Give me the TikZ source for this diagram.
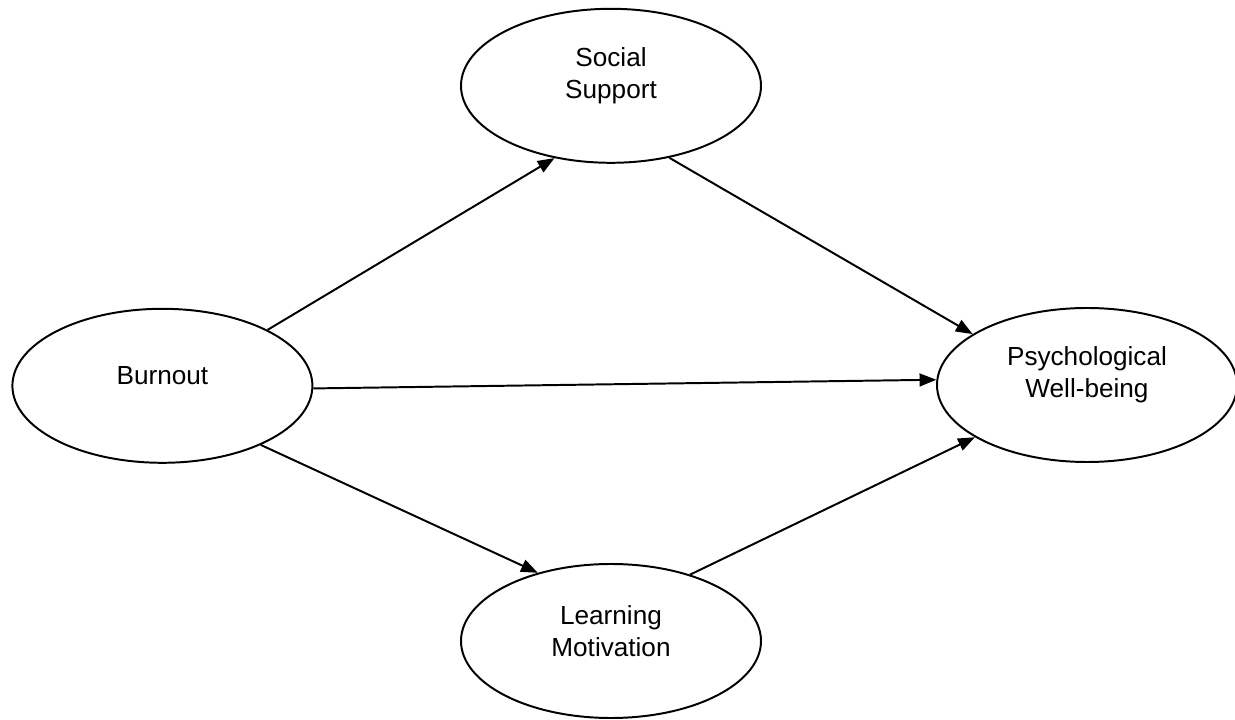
\documentclass[tikz,border=0pt]{standalone}
\usepackage{fontspec}
\setmainfont{Liberation Sans}
\usetikzlibrary{shapes.geometric}
\usetikzlibrary{arrows.meta}
\usetikzlibrary{positioning}

\begin{document}
\begin{tikzpicture}[latent/.style={draw,ellipse,line width=1.4pt,minimum width=7.5cm,minimum height=3.85cm,inner sep=0pt},
  every label/.style={font=\fontsize{18.6}{23}\selectfont,align=center,yshift=0.25cm},
  effect/.style={line width=1.4pt,-{Triangle[length=0.42cm,width=0.32cm]}}]
\useasboundingbox (0,0) rectangle (30.875,17.975);
  \node[latent] (burnout) at (4.06,8.33)[label=center:Burnout]{};
  \node[latent] (support) at (15.275,15.83)[label=center:Social\\Support]{};
  \node[latent] (wellbeing) at (27.175,8.35)[label=center:Psychological\\Well-being]{};
  \node[latent] (motivation) at (15.275,1.95)[label=center:Learning\\Motivation]{};

\draw[effect](burnout.28.8)--(support.232);
\draw[effect](support.309)--(wellbeing.156.4);
\draw[effect](burnout.-1)--(wellbeing.178);
\draw[effect](burnout.-31.5)--(motivation.137);
\draw[effect](motivation.40)--(wellbeing.205);
  \end{tikzpicture}
\end{document}
